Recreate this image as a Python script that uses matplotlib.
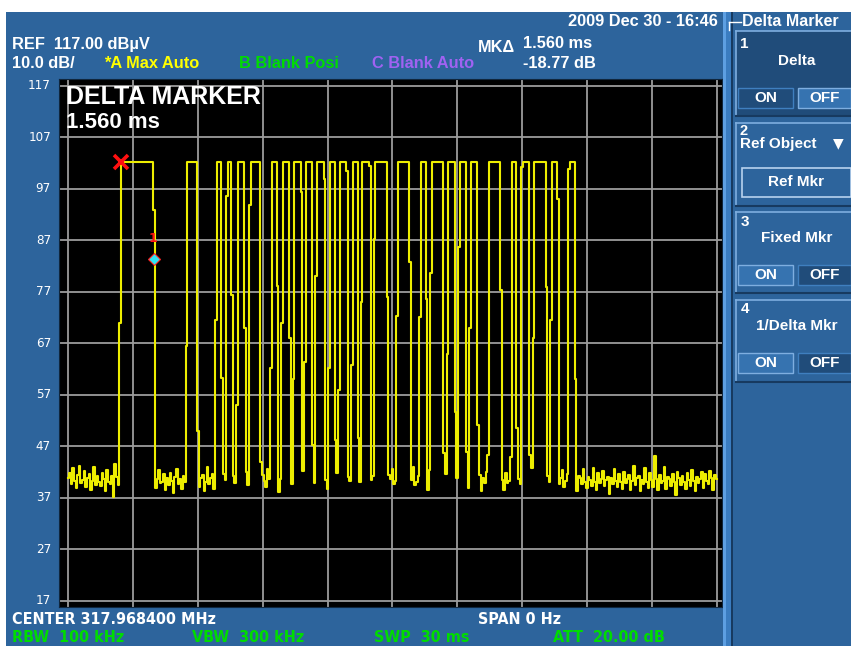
import matplotlib
matplotlib.use('Agg')
import matplotlib.pyplot as plt
from matplotlib.patches import Rectangle
import numpy as np

W, H = 851, 646

# analyzer settings
sweep_ms = 30.0
n_points = 401
ref_level = 117.0
db_per_div = 10.0
level_ticks = [117, 107, 97, 87, 77, 67, 57, 47, 37, 27, 17]
time_ticks = [0, 3, 6, 9, 12, 15, 18, 21, 24, 27, 30]

# burst: time the trace sits on top of each pulse (ms)
pulse_on_ms = [2.42, 5.52, 6.83, 7.36, 7.87, 8.42, 9.42, 9.96, 10.49, 11.02,
               11.53, 12.08, 12.59, 13.13, 13.64, 14.21, 15.24, 16.29, 16.85, 17.60,
               18.14, 18.65, 19.47, 20.51, 21.05, 21.57, 22.39, 23.18]
pulse_off_ms = [3.91, 5.99, 7.06, 7.57, 8.11, 8.91, 9.67, 10.21, 10.73, 11.29,
                11.78, 12.32, 12.83, 13.39, 13.90, 14.70, 15.75, 16.54, 17.37, 17.87,
                18.39, 18.92, 19.96, 20.77, 21.33, 22.08, 22.59, 23.44]
# level of the single sample caught on each rising / falling edge (dBuV)
rise_step_db = [71.0, 66.5, 71.6, 95.6, 55.0, 93.8, 62.2, 71.0, 60.0, 63.4,
                80.0, 62.2, 58.0, 62.8, 75.0, 87.2, 72.2, 72.0, 80.7, 65.0,
                85.6, 70.0, 45.3, 44.9, 101.2, 68.0, 71.6, 100.8]
fall_step_db = [92.8, 50.0, 60.3, 76.4, 70.0, 44.0, 78.2, 68.0, 96.3, 47.2,
                98.9, 48.2, 100.4, 48.6, 101.5, 75.9, 82.7, 75.5, 45.7, 53.6,
                45.9, 51.1, 77.4, 50.5, 45.3, 78.0, 95.0, 60.0]
pulse_top_db = 102.2

# noise floor, one value per sweep point (dBuV)
noise_db = [
    40.8, 41.9, 39.6, 42.7, 40.2, 38.9, 41.4, 43.1, 39.8, 40.5, 42.2, 39.1, 40.9, 41.6, 38.6, 40.3, 42.9, 39.4, 41.2, 40.0,
    39.2, 41.8, 40.6, 38.3, 42.4, 40.1, 39.7, 41.3, 37.2, 43.6, 41.0, 39.5, 40.7, 38.8, 41.9, 40.4, 39.0, 42.1, 40.6, 38.7,
    41.5, 39.9, 40.8, 42.6, 38.4, 40.2, 41.7, 39.3, 40.9, 38.1, 42.0, 40.5, 39.6, 41.4, 38.9, 40.7, 42.3, 39.8, 40.1, 41.6,
    38.5, 40.9, 39.4, 41.8, 40.3, 37.9, 41.1, 42.5, 39.7, 40.6, 38.8, 41.3, 40.0, 39.2, 42.2, 40.7, 38.6, 41.0, 39.9, 40.4,
    42.1, 39.0, 40.8, 41.5, 38.3, 40.1, 43.0, 39.6, 40.9, 41.7, 38.7, 40.4, 39.3, 42.4, 40.2, 38.9, 41.6, 40.5, 39.1, 41.9,
    40.3, 38.6, 41.2, 39.8, 42.7, 40.0, 39.4, 41.1, 38.2, 40.8, 42.0, 39.5, 40.6, 41.8, 38.4, 40.9, 39.7, 42.3, 40.1, 38.8,
    41.4, 40.2, 39.0, 42.5, 40.7, 38.5, 41.6, 39.9, 40.4, 41.2, 38.1, 40.6, 42.8, 39.3, 40.0, 41.5, 38.7, 40.8, 39.6, 42.0,
    40.5, 39.1, 41.7, 40.3, 38.9, 42.2, 40.1, 39.4, 41.0, 38.6, 40.7, 42.6, 39.8, 40.2, 41.4, 38.3, 40.9, 39.5, 41.8, 40.4,
    38.8, 41.3, 40.0, 42.4, 39.2, 40.6, 41.9, 38.5, 40.3, 39.7, 42.1, 40.8, 38.9, 41.1, 40.2, 39.0, 42.7, 40.5, 39.6, 41.6,
    40.1, 38.4, 41.5, 39.9, 40.7, 42.3, 39.3, 40.4, 41.2, 38.7, 40.9, 39.5, 42.0, 40.3, 38.6, 41.7, 40.0, 39.2, 41.4, 40.6,
    42.5, 39.7, 40.2, 38.9, 41.8, 40.5, 39.1, 42.2, 40.8, 38.3, 41.0, 39.6, 40.4, 42.9, 39.4, 40.1, 41.3, 38.8, 40.7, 39.9,
    41.1, 40.3, 38.5, 42.4, 39.8, 40.6, 41.5, 38.2, 40.9, 39.3, 42.0, 40.2, 38.7, 41.6, 40.0, 39.5, 42.6, 40.4, 39.0, 41.2,
    40.8, 38.6, 41.9, 40.1, 39.4, 42.3, 40.5, 38.9, 41.3, 39.7, 40.2, 42.8, 39.1, 40.6, 41.4, 38.4, 40.9, 39.8, 42.1, 40.3,
    39.6, 41.7, 40.0, 38.8, 42.5, 40.7, 39.2, 41.0, 40.4, 38.5, 41.8, 39.9, 40.3, 42.2, 39.5, 40.8, 41.1, 38.3, 40.6, 39.7,
    42.0, 40.2, 39.3, 41.6, 38.9, 40.5, 42.7, 39.8, 40.1, 41.4, 38.6, 40.9, 39.4, 42.3, 40.7, 38.7, 41.2, 40.0, 39.1, 41.9,
    40.4, 38.2, 41.5, 39.6, 40.8, 42.4, 39.0, 40.3, 41.7, 38.8, 40.6, 39.5, 42.1, 40.2, 38.4, 41.3, 40.9, 39.7, 42.6, 40.1,
    38.9, 41.0, 40.5, 39.2, 42.8, 40.0, 38.6, 41.8, 39.9, 40.7, 42.2, 39.3, 40.4, 41.1, 37.8, 40.8, 39.6, 42.5, 40.3, 39.0,
    41.6, 40.1, 38.7, 42.0, 39.8, 40.6, 41.4, 38.5, 40.2, 43.2, 39.4, 40.9, 41.2, 38.3, 40.5, 39.7, 42.7, 40.0, 38.9, 41.8,
    40.4, 39.1, 45.1, 40.7, 38.6, 41.5, 39.9, 40.3, 42.9, 38.8, 41.0, 40.6, 39.2, 41.7, 40.1, 37.6, 42.1, 40.8, 39.5, 41.3,
    40.0, 38.7, 41.9, 40.5, 39.3, 42.4, 40.2, 38.4, 41.1, 39.8, 40.7, 42.0, 38.9, 41.6, 40.3, 39.6, 42.2, 40.9, 38.5, 41.4,
    40.6,
]

marker_ms = 2.42
delta_ms = 1.560
delta_db = -18.77

BLUE = '#2d649c'
DARK = '#204c7a'
LIGHT = '#3673b0'
EDGE_HI = '#7eaee0'
EDGE_LO = '#173a60'
GREEN = '#00dc00'
YELLOW = '#ffff00'
PURPLE = '#a062f2'
GRID = '#9c9c9c'

NARROW = ['DejaVu Sans Condensed', 'DejaVu Sans']
BOLD = ['Liberation Sans', 'DejaVu Sans']


def fx(x):
    return x / W


def fy(y):
    return 1 - y / H


def box(x0, y0, x1, y1, color, edge=None, lw=1.0, z=1):
    fig.add_artist(Rectangle((fx(x0), fy(y1)), (x1 - x0) / W, (y1 - y0) / H,
                             transform=fig.transFigure, facecolor=color,
                             edgecolor=edge if edge else 'none', lw=lw, zorder=z))


def line(x0, y0, x1, y1, color, lw=1.0):
    fig.add_artist(plt.Line2D([fx(x0), fx(x1)], [fy(y0), fy(y1)],
                              transform=fig.transFigure, color=color, lw=lw, zorder=2))


def label(x, y, s, color='white', size=10.5, ha='left', family=BOLD, weight='bold',
          stretch='normal'):
    fig.text(fx(x), fy(y), s, color=color, fontsize=size, ha=ha, va='center',
             family=family, fontweight=weight, fontstretch=stretch)


# build the trace from the noise floor and the pulse list
t = np.linspace(0, sweep_ms, n_points)
trace = np.array(noise_db, dtype=float)
for on, off, up, down in zip(pulse_on_ms, pulse_off_ms, rise_step_db, fall_step_db):
    inside = (t >= on - 1e-9) & (t <= off + 1e-9)
    idx = np.nonzero(inside)[0]
    trace[idx] = pulse_top_db
    trace[idx[0] - 1] = up
    trace[idx[-1] + 1] = down

fig = plt.figure(figsize=(W / 100, H / 100), dpi=100, facecolor='white')
box(6, 12, W, H, BLUE, z=-5)

# graticule area
x_px0, x_px1 = 68.3, 716.5
y_px_top, y_px_bot = 85.7, 600.8
ax_l, ax_r, ax_t, ax_b = 59.3, 722.0, 79.0, 607.0
ppm = (x_px1 - x_px0) / sweep_ms
ppd = (y_px_bot - y_px_top) / (level_ticks[0] - level_ticks[-1])
ax = fig.add_axes([fx(ax_l), fy(ax_b), (ax_r - ax_l) / W, (ax_b - ax_t) / H])
ax.set_facecolor('black')
ax.set_xlim(-(x_px0 - ax_l) / ppm, sweep_ms + (ax_r - x_px1) / ppm)
ax.set_ylim(level_ticks[-1] - (ax_b - y_px_bot) / ppd, ref_level + (y_px_top - ax_t) / ppd)
for tm in time_ticks:
    ax.axvline(tm, color=GRID, lw=1.3, zorder=1)
for lv in level_ticks:
    ax.axhline(lv, color=GRID, lw=1.3, zorder=1)
ax.set_xticks([])
ax.set_yticks([])
for s in ax.spines.values():
    s.set_color('#10263d')

ax.plot(t, trace, drawstyle='steps-mid', color='#eded00', lw=1.5, zorder=3)
ax.plot(marker_ms, pulse_top_db, marker='x', color='#ff1010', ms=10, mew=2.6, zorder=5)
ax.plot(marker_ms + delta_ms, pulse_top_db + delta_db, marker='D', mfc='#30e4f4',
        mec='#ff2020', ms=6.5, mew=0.8, zorder=5)
ax.text(marker_ms + delta_ms - 0.05, 87.3, '1', color='#ff1010', fontsize=9,
        fontweight='bold', ha='center', va='center', zorder=5)

for lv in level_ticks:
    yy = y_px_top + (ref_level - lv) * ppd
    label(51, yy, str(lv), size=9.5, ha='right', family=NARROW, weight='normal',
          stretch='condensed')

# overlay readout
label(66, 97, 'DELTA MARKER', size=18)
label(66, 122, '%.3f ms' % delta_ms, size=16)

# header
label(718, 21, '2009 Dec 30 - 16:46', ha='right', size=11.8)
label(12, 45, 'REF  %.2f dBµV' % ref_level, size=11.8)
label(12, 64, '%.1f dB/' % db_per_div, size=11.8)
label(104, 64, '*A Max Auto', color=YELLOW, size=11.8)
label(239, 64, 'B Blank Posi', color=GREEN, size=11.8)
label(372, 64, 'C Blank Auto', color=PURPLE, size=11.8)
label(478, 47, 'MKΔ', size=11.8)
label(523, 44, '%.3f ms' % delta_ms, size=11.8)
label(523, 64, '%.2f dB' % delta_db, size=11.8)

# footer
foot = dict(size=11.5, family=NARROW, stretch='condensed')
label(12, 619, 'CENTER 317.968400 MHz', **foot)
label(478, 619, 'SPAN 0 Hz', **foot)
label(12, 638, 'RBW  100 kHz', color=GREEN, **foot)
label(192, 638, 'VBW  300 kHz', color=GREEN, **foot)
label(374, 638, 'SWP  30 ms', color=GREEN, **foot)
label(553, 638, 'ATT  20.00 dB', color=GREEN, **foot)

# softkey panel
box(722.5, 12, 725.5, H, '#5d9fe2')
box(725.5, 12, 731, H, '#3a7cc0')
box(731, 12, 733, H, EDGE_LO)
line(729, 22, 741, 22, 'white', 1.0)
line(729, 22, 729, 30, 'white', 1.0)
label(742, 21, 'Delta Marker', size=11.5)


def softkey(y0, y1, fill=BLUE):
    box(736, y0, W, y1, fill)
    line(736, y0, W, y0, EDGE_HI, 1.2)
    line(736, y0, 736, y1, EDGE_HI, 1.2)
    line(736, y1, W, y1, EDGE_LO, 1.5)


def onoff(y0, y1, on_selected):
    box(738, y0, 793, y1, DARK if on_selected else LIGHT,
        edge=EDGE_HI if not on_selected else '#3f7fbf', lw=1.0)
    box(798, y0, W, y1, LIGHT if on_selected else DARK,
        edge=EDGE_HI if on_selected else '#3f7fbf', lw=1.0)
    label(765.5, (y0 + y1) / 2, 'ON', size=11, ha='center')
    label(825, (y0 + y1) / 2, 'OFF', size=11, ha='center')


softkey(31, 116, DARK)
label(740, 44, '1', size=11)
label(797, 61, 'Delta', size=11, ha='center')
onoff(88, 108, True)

softkey(123, 206)
label(739, 131, '2', size=10.5)
label(740, 144, 'Ref Object', size=11)
label(838, 143, '▼', size=10, ha='center', family=['DejaVu Sans'])
box(741.5, 168, 851, 197, BLUE, edge='#b8d2ee', lw=1.2)
label(796, 182, 'Ref Mkr', size=11, ha='center')

softkey(212, 293)
label(741, 222, '3', size=11)
label(797, 238, 'Fixed Mkr', size=11, ha='center')
onoff(265, 285, False)

softkey(300, 382)
label(741, 309, '4', size=11)
label(797, 326, '1/Delta Mkr', size=11, ha='center')
onoff(353, 373, False)

fig.savefig('out.png', dpi=100, facecolor=fig.get_facecolor())
